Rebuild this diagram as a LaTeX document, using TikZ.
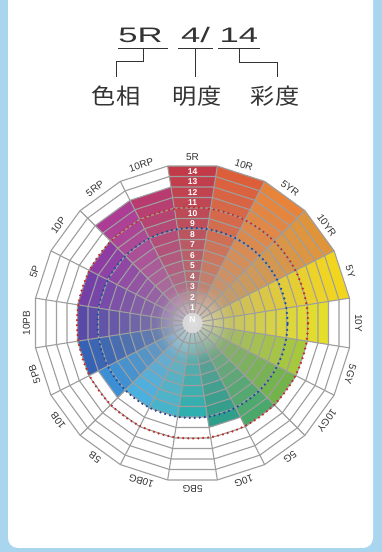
\documentclass[tikz,border=0pt]{standalone}
\usepackage{fontspec}
\usepackage{graphicx}
\setmainfont{Liberation Sans}
\newfontfamily\cjkfont{Noto Sans CJK JP}
\usetikzlibrary{fadings}

\definecolor{framecol}{HTML}{A9D5EF}
\definecolor{gridcol}{HTML}{9E9E9E}
\definecolor{coregray}{HTML}{A4A4A4}
\definecolor{reddot}{HTML}{C0302A}
\definecolor{bluedot}{HTML}{1E4E9E}
\definecolor{inkcol}{HTML}{333333}
% hue colours, clockwise from 5R
\definecolor{hue0}{HTML}{C23A48}
\definecolor{hue1}{HTML}{DD5F3A}
\definecolor{hue2}{HTML}{E8843A}
\definecolor{hue3}{HTML}{E0943A}
\definecolor{hue4}{HTML}{F2D61E}
\definecolor{hue5}{HTML}{E6DF2A}
\definecolor{hue6}{HTML}{A6C83C}
\definecolor{hue7}{HTML}{72B44A}
\definecolor{hue8}{HTML}{4AA86A}
\definecolor{hue9}{HTML}{2F9E8A}
\definecolor{hue10}{HTML}{2FB0B0}
\definecolor{hue11}{HTML}{48B4CC}
\definecolor{hue12}{HTML}{4AB0E0}
\definecolor{hue13}{HTML}{3B8FD4}
\definecolor{hue14}{HTML}{3562B4}
\definecolor{hue15}{HTML}{5A4AA8}
\definecolor{hue16}{HTML}{7440A8}
\definecolor{hue17}{HTML}{8E3CA4}
\definecolor{hue18}{HTML}{AD3C94}
\definecolor{hue19}{HTML}{B83A6E}

\tikzfading[name=glowfade, inner color=transparent!0, outer color=transparent!100]

\tikzset{
  gridline/.style={draw=gridcol, line width=1.1pt, line join=round},
  dotring/.style={line width=2.5pt, line cap=round, dash pattern=on 0pt off 5pt},
  chromanum/.style={text=white, font=\bfseries\fontsize{8.5}{8.5}\selectfont, inner sep=0pt},
  huelabel/.style={text=inkcol, font=\fontsize{10}{10}\selectfont, inner sep=0pt},
  notation/.style={text=inkcol, font=\fontsize{21}{21}\selectfont, inner sep=0pt, anchor=base},
  termlabel/.style={text=inkcol, font=\cjkfont\fontsize{22}{22}\selectfont, inner sep=0pt, anchor=base},
  bracket/.style={draw=inkcol, line width=0.8pt},
}

\begin{document}
\begin{tikzpicture}[x=1pt,y=1pt]
\useasboundingbox (0,0) rectangle (382,552);
\clip (0,0) rectangle (382,552);
\fill[framecol] (0,0) rectangle (382,552);
\fill[white, rounded corners=10pt] (8,4) rectangle (373,600);

% notation 5R 4/14
\node[notation] (hue) at (140.5,509) {\scalebox{1.65}[1]{5R}};
\node[notation] (val) at (195.5,509) {\scalebox{1.65}[1]{4/}};
\node[notation] (chr) at (239,509) {\scalebox{1.65}[1]{14}};
\node[termlabel] (huename) at (116,447) {\scalebox{1.1}[1]{色相}};
\node[termlabel] (valname) at (197,447) {\scalebox{1.1}[1]{明度}};
\node[termlabel] (chrname) at (275,447) {\scalebox{1.1}[1]{彩度}};

\coordinate (hueM) at (143,504);
\coordinate (valM) at (195,504);
\coordinate (chrM) at (239,504);
\coordinate (huetip) at (116,475);
\coordinate (valtip) at (195,475);
\coordinate (chrtip) at (277,475);
\draw[bracket] (118,504) -- (168,504);
\draw[bracket] (178,504) -- (213,504);
\draw[bracket] (218,504) -- (260,504);
\draw[bracket] (hueM) -- ++(0,-13) -| (huetip);
\draw[bracket] (valM) -- (valtip);
\draw[bracket] (chrM) -- ++(0,-14) -| (chrtip);

% hue wheel
\begin{scope}[shift={(192.5,229)}]
\coordinate (C) at (0,0);
\fill[coregray!70!white] (C) circle (10.1);
\foreach \kmax [count=\i from 0] in {14,14,14,14,14,12,10,10,10,9,8,8,8,9,10,10,10,10,12,12} {
  \foreach \k in {1,...,\kmax} {
    \pgfmathsetmacro\ra{10.1+10.63*(\k-1)}
    \pgfmathsetmacro\rb{10.1+10.63*\k}
    \pgfmathtruncatemacro\mixpct{100*(\k/\kmax)^0.5}
    \fill[hue\i!\mixpct!coregray] (99-18*\i:\ra) -- (99-18*\i:\rb) -- (81-18*\i:\rb) -- (81-18*\i:\ra) -- cycle;
  }
}
\fill[white, path fading=glowfade, fill opacity=0.5] (C) circle (38);

% grid
\foreach \k in {1,...,14} {
  \pgfmathsetmacro\rr{10.1+10.63*\k}
  \draw[gridline] (9:\rr) \foreach \a in {27,45,...,351} {-- (\a:\rr)} -- cycle;
}
\foreach \a in {9,27,...,351} \draw[gridline] (\a:10.1) -- (\a:158.9);

\draw[dotring, reddot] (C) circle (115.5);
\draw[dotring, bluedot] (C) circle (95);

% chroma steps
\node[chromanum] (cN) at (0,3) {N};
\foreach \k in {1,...,14} \node[chromanum] (c\k) at (0,4.75+10.5*\k) {\k};

% hue names
\foreach \name [count=\i from 0] in {5R,10R,5YR,10YR,5Y,10Y,5GY,10GY,5G,10G,5BG,10BG,5B,10B,5PB,10PB,5P,10P,5RP,10RP}
  \node[huelabel, rotate=-18*\i] (h\name) at (90-18*\i:166) {\name};
\end{scope}
\end{tikzpicture}
\end{document}
